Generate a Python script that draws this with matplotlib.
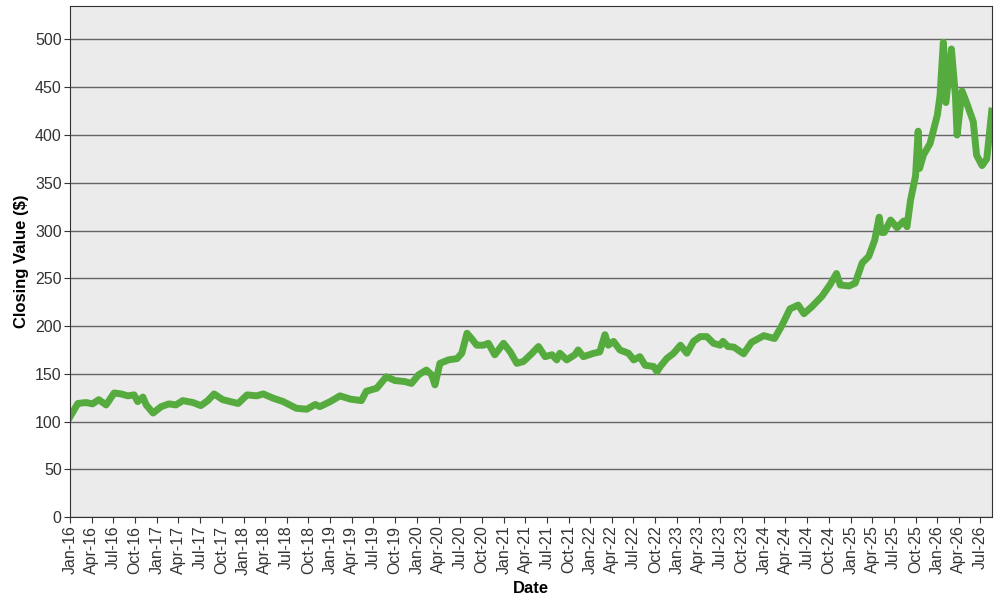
import pandas as pd
import matplotlib
matplotlib.use("Agg")
import matplotlib.pyplot as plt
import matplotlib.dates as mdates

# closing values
dates = [
    "2016-01-01", "2016-02-03", "2016-03-08", "2016-04-05", "2016-05-01", "2016-06-01",
    "2016-07-05", "2016-08-03", "2016-09-01", "2016-09-27", "2016-10-12", "2016-11-03",
    "2016-11-17", "2016-12-16", "2017-01-19", "2017-02-21", "2017-03-22", "2017-04-20",
    "2017-06-02", "2017-07-05", "2017-08-03", "2017-08-30", "2017-10-05", "2017-11-06",
    "2017-12-09", "2018-01-16", "2018-02-25", "2018-03-25", "2018-05-05", "2018-06-17",
    "2018-08-11", "2018-09-24", "2018-10-30", "2018-11-18", "2019-01-01", "2019-02-11",
    "2019-03-26", "2019-05-12", "2019-06-02", "2019-07-16", "2019-08-25", "2019-10-01",
    "2019-11-10", "2019-12-09", "2020-01-08", "2020-02-10", "2020-03-03", "2020-03-17",
    "2020-04-07", "2020-05-12", "2020-06-18", "2020-07-08", "2020-07-30", "2020-08-18",
    "2020-09-09", "2020-10-07", "2020-10-28", "2020-11-24", "2020-12-31", "2021-01-28",
    "2021-02-25", "2021-03-25", "2021-04-30", "2021-05-27", "2021-06-24", "2021-07-23",
    "2021-08-12", "2021-08-25", "2021-09-23", "2021-10-27", "2021-11-10", "2021-12-02",
    "2022-01-15", "2022-02-09", "2022-03-03", "2022-03-17", "2022-04-08", "2022-05-05",
    "2022-06-10", "2022-07-02", "2022-07-28", "2022-08-19", "2022-09-24", "2022-10-08",
    "2022-10-22", "2022-11-18", "2022-12-17", "2023-01-15", "2023-02-11", "2023-03-11",
    "2023-04-08", "2023-05-06", "2023-06-03", "2023-07-01", "2023-07-13", "2023-08-03",
    "2023-08-28", "2023-10-08", "2023-11-10", "2024-01-01", "2024-02-15", "2024-03-18",
    "2024-04-20", "2024-05-25", "2024-06-18", "2024-07-20", "2024-09-01", "2024-10-05",
    "2024-11-02", "2024-11-18", "2024-12-25", "2025-01-20", "2025-02-18", "2025-03-18",
    "2025-04-12", "2025-05-01", "2025-05-10", "2025-05-22", "2025-06-18", "2025-07-15",
    "2025-08-12", "2025-08-26", "2025-09-10", "2025-10-01", "2025-10-12", "2025-10-18",
    "2025-11-03", "2025-12-01", "2026-01-01", "2026-01-12", "2026-01-26", "2026-02-06",
    "2026-03-01", "2026-03-18", "2026-03-25", "2026-04-15", "2026-05-08", "2026-06-01",
    "2026-06-15", "2026-07-08", "2026-07-28", "2026-08-18",
]
closing = [
    105, 119, 120, 118.6, 123, 117.5,
    130, 129, 127, 128, 121, 125.7,
    117.5, 109, 115.7, 118.6, 117.5, 122,
    120, 116.8, 122, 129, 123, 121,
    119, 128, 127, 129, 124.6, 121,
    114, 113, 118, 115.7, 121, 127,
    123.6, 122, 131.8, 135, 147, 143,
    142, 140, 149, 154, 149, 138.5,
    161, 164.6, 166, 171.6, 192.5, 187,
    180, 180, 182, 170, 182, 173,
    161, 163, 171.6, 178.6, 168, 170,
    164.6, 171.6, 164.6, 170, 175, 168,
    171.6, 173, 191, 180, 184, 175,
    171.6, 164.6, 168, 159, 157.7, 152.4,
    157.7, 166, 171.6, 180, 171.6, 184,
    189, 189, 182, 180, 184, 178.6,
    178, 171, 183, 190, 187, 201,
    218, 222, 213, 220, 231, 243,
    255, 243, 242, 245, 266, 273,
    290, 314, 298, 298, 311, 303,
    310, 304, 332, 357, 404, 365,
    379, 391, 421, 441, 497, 434,
    490, 441, 400, 446, 431, 414,
    379, 368, 375, 425,
]

x = pd.to_datetime(dates)

fig = plt.figure(figsize=(10, 6), dpi=100)
ax = fig.add_axes([0.07, 0.138, 0.922, 0.852])
plt.rcParams['font.family'] = ['Liberation Sans', 'DejaVu Sans']

ax.set_facecolor("#ebebeb")
ax.plot(x, closing, color="#56ab3f", linewidth=5, solid_joinstyle="round")

ax.set_ylim(0, 535)
ax.set_yticks(range(0, 501, 50))
ax.set_xlim(pd.Timestamp("2016-01-01"), pd.Timestamp("2026-08-19"))
ax.xaxis.set_major_locator(mdates.MonthLocator(bymonth=[1, 4, 7, 10]))
ax.xaxis.set_major_formatter(mdates.DateFormatter("%b-%y"))

ax.grid(axis="y", color="#666666", linewidth=1)
ax.set_axisbelow(True)
for s in ax.spines.values():
    s.set_color("#333333")

ax.tick_params(axis="x", labelrotation=90, labelsize=11.5, colors="#333333", length=4, pad=2)
ax.tick_params(axis="y", labelsize=11.5, colors="#333333", length=4, pad=2)
for lab in ax.get_xticklabels() + ax.get_yticklabels():
    lab.set_family(['Liberation Sans', 'DejaVu Sans'])

ax.set_xlabel("Date", fontsize=12, fontweight="bold", family=['Liberation Sans'], labelpad=5)
ax.set_ylabel("Closing Value ($)", fontsize=12, fontweight="bold", family=['Liberation Sans'], labelpad=4)

fig.savefig("out.png", dpi=100)
